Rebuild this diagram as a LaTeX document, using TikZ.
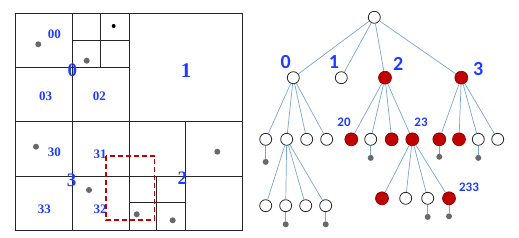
\documentclass[tikz,border=0pt]{standalone}
\usepackage{fontspec}
\usepackage{xcolor}
\usepackage{tikz}
\usetikzlibrary{positioning}
\newfontfamily\gridfont{Liberation Serif}
\newfontfamily\treefont{Carlito}
\definecolor{lblblue}{RGB}{30,60,255}
\definecolor{edgeblue}{RGB}{120,165,215}
\definecolor{hitred}{RGB}{192,0,0}
\definecolor{ptgray}{RGB}{105,105,105}

\begin{document}
\begin{tikzpicture}[x=1pt, y=-1pt,
  grid/.style={draw=black!85, line width=0.9pt},
  pt/.style={circle, fill=ptgray, inner sep=0pt, minimum size=6pt},
  qlbl/.style={font=\gridfont\bfseries\fontsize{13}{13}\selectfont, text=lblblue, inner sep=0pt},
  qbig/.style={font=\gridfont\bfseries\fontsize{19}{19}\selectfont, text=lblblue, inner sep=0pt},
  query/.style={draw=hitred, line width=1.6pt, dash pattern=on 5pt off 3pt},
  wnode/.style={circle, draw=black!85, fill=white, line width=0.8pt, inner sep=0pt, minimum size=12pt},
  rnode/.style={circle, draw=hitred!70!black, fill=hitred, line width=0.6pt, inner sep=0pt, minimum size=13pt},
  edge/.style={draw=edgeblue, line width=0.7pt},
  tlbl/.style={font=\treefont\bfseries\fontsize{20}{20}\selectfont, text=lblblue, inner sep=0pt},
  tsml/.style={font=\treefont\bfseries\fontsize{13}{13}\selectfont, text=lblblue, inner sep=0pt},
]
  \useasboundingbox (0,0) rectangle (519,238);

  % --- quadtree grid -------------------------------------------------
  \draw[grid] (15,13.3) rectangle (242.3,230);
  \draw[grid] (129,13.3) -- (129,230);
  \draw[grid] (15,121.7) -- (242.3,121.7);
  \draw[grid] (72.3,13.3) -- (72.3,230);
  \draw[grid] (15,67.7) -- (129,67.7);
  \draw[grid] (100.7,13.3) -- (100.7,67.7);
  \draw[grid] (72.3,40.7) -- (129,40.7);
  \draw[grid] (15,176.7) -- (242.3,176.7);
  \draw[grid] (185.7,121.7) -- (185.7,230);
  \draw[grid] (156.7,176.7) -- (156.7,230);
  \draw[grid] (129,202.3) -- (185.7,202.3);

  % --- points --------------------------------------------------------
  \foreach \x/\y in {38.3/44.3, 86.7/60.7, 36/146.7, 89/190, 217.3/151.7, 136.7/214.3, 172.7/220.3}
    \node[pt] at (\x,\y) {};
  \node[pt, fill=black, minimum size=4pt] (p01) at (113.7,26) {};

  % --- cell labels ---------------------------------------------------
  \node[qlbl] (c00) at (54.3,34) {00};
  \node[qlbl] (c03) at (45.7,96.7) {03};
  \node[qlbl] (c02) at (99.3,96.7) {02};
  \node[qlbl] (c30) at (54.3,152.7) {30};
  \node[qlbl] (c31) at (100,154) {31};
  \node[qlbl] (c33) at (44.3,209.3) {33};
  \node[qlbl] (c32) at (100,209.3) {32};
  \node[qbig] (c0) at (72.3,70.7) {0};
  \node[qbig, font=\gridfont\bfseries\fontsize{21}{21}\selectfont] (c1) at (186,70.7) {1};
  \node[qbig] (c3) at (71.7,180) {3};
  \node[qbig] (c2) at (182.3,178.3) {2};

  % --- query window --------------------------------------------------
  \draw[query] (106,156) rectangle (154.3,220);

  % --- tree nodes ----------------------------------------------------
  \node[wnode] (root) at (374.3,17.3) {};
  \node[wnode] (n0) at (293.3,77.7) {};
  \node[wnode] (n1) at (341.3,77.7) {};
  \node[rnode] (n2) at (385,77.7) {};
  \node[rnode] (n3) at (461.3,77.7) {};

  \foreach \n/\x/\s in {n00/265.7/wnode, n01/286.7/wnode, n02/306.7/wnode, n03/326.7/wnode,
                        n20/351.3/rnode, n21/370.7/wnode, n22/391.7/rnode, n23/412.3/rnode,
                        n30/439.3/rnode, n31/459/rnode, n32/478.3/wnode, n33/497.7/wnode}
    \node[\s] (\n) at (\x,139.3) {};

  \foreach \n/\x in {n010/265.7, n011/285.7, n012/305.7, n013/325.7}
    \node[wnode] (\n) at (\x,205.7) {};

  \foreach \n/\x/\s in {n230/382/rnode, n231/405.7/wnode, n232/427.7/wnode, n233/449/rnode}
    \node[\s] (\n) at (\x,198.3) {};

  % --- leaf points ---------------------------------------------------
  \node[pt, below=13pt of n00] (q00) {};
  \node[pt, below=9pt of n21] (q21) {};
  \node[pt, below=7.5pt of n30] (q30) {};
  \node[pt, below=9pt of n32] (q32) {};
  \node[pt, below=9pt of n011] (q011) {};
  \node[pt, below=9pt of n013] (q013) {};
  \node[pt, below=9pt of n232] (q232) {};
  \node[pt, below=8pt of n233] (q233) {};

  % --- edges ---------------------------------------------------------
  \foreach \a/\b in {root/n0,root/n1,root/n2,root/n3,
                     n0/n00,n0/n01,n0/n02,n0/n03,
                     n2/n20,n2/n21,n2/n22,n2/n23,
                     n3/n30,n3/n31,n3/n32,n3/n33,
                     n01/n010,n01/n011,n01/n012,n01/n013,
                     n23/n230,n23/n231,n23/n232,n23/n233,
                     n00/q00,n21/q21,n30/q30,n32/q32,n011/q011,n013/q013,n232/q232,n233/q233}
    \draw[edge] (\a) -- (\b);

  % --- tree labels ---------------------------------------------------
  \node[tlbl] (t0) at (285.7,61.7) {0};
  \node[tlbl] (t1) at (334,62.3) {1};
  \node[tlbl] (t2) at (398.3,64) {2};
  \node[tlbl] (t3) at (478.3,69.3) {3};
  \node[tsml] (t20) at (344,122.7) {20};
  \node[tsml] (t23) at (421,122.7) {23};
  \node[tsml] (t233) at (469,187.3) {233};
\end{tikzpicture}
\end{document}
